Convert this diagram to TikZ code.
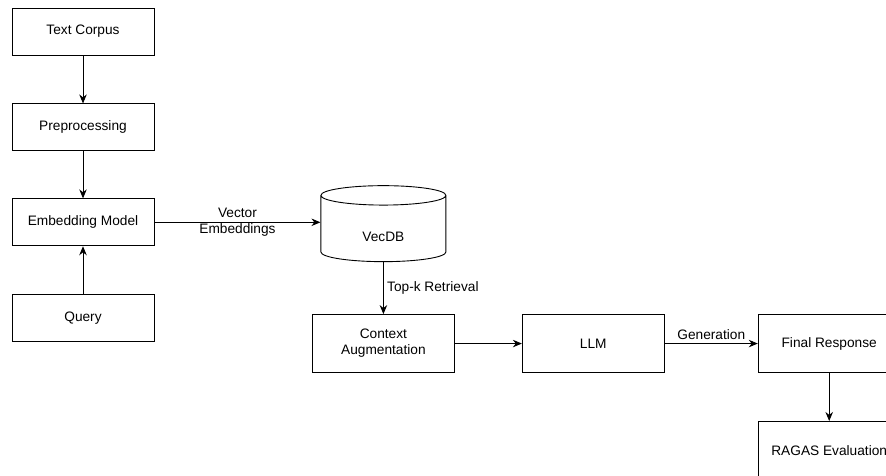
\documentclass[tikz,border=0pt]{standalone}
\usepackage{fontspec}
\setmainfont{Liberation Sans}
\usepackage{tikz}
\usetikzlibrary{shapes,arrows,arrows.meta,positioning}

\begin{document}
\begin{tikzpicture}[->,>={Stealth[length=9pt,width=7.5pt]},auto,line width=0.9pt,font=\fontsize{13.7}{16}\selectfont,
    proc box/.style={rectangle,draw,minimum width=142pt,minimum height=47pt,align=center},
    tall box/.style={proc box,minimum height=58pt},
    db node/.style={cylinder,draw,shape border rotate=90,aspect=0.4,minimum width=125pt,minimum height=76pt}]
    \useasboundingbox (0,0) rectangle (886pt,-476pt);

    \node[proc box] (corpus) at (83pt,-31.5pt) {Text Corpus};
    \node[proc box] (prep) [below=48pt of corpus] {Preprocessing};
    \node[proc box] (embed) [below=47pt of prep] {Embedding Model};
    \node[proc box] (query) [below=48pt of embed] {Query};
    \node[db node,yshift=-8pt] (vecdb) [right=166pt of embed] {\raisebox{-11pt}[0pt][0pt]{VecDB}};

    \node[tall box] (ctx) [below=52pt of vecdb] {Context\\Augmentation};
    \node[tall box] (llm) [right=67pt of ctx] {LLM};
    \node[tall box] (resp) [right=93pt of llm] {Final Response};
    \node[tall box] (ragas) [below=48pt of resp] {RAGAS Evaluation};

    \path[->] (corpus) edge (prep)
        (prep) edge (embed)
        (query) edge (embed)
        (embed) edge node[anchor=center,align=center] {Vector\\Embeddings} (embed -| vecdb.west)
        (vecdb) edge node {Top-k Retrieval} (ctx)
        (ctx) edge (llm)
        (llm) edge node {Generation} (resp)
        (resp) edge (ragas);

\end{tikzpicture}
\end{document}
